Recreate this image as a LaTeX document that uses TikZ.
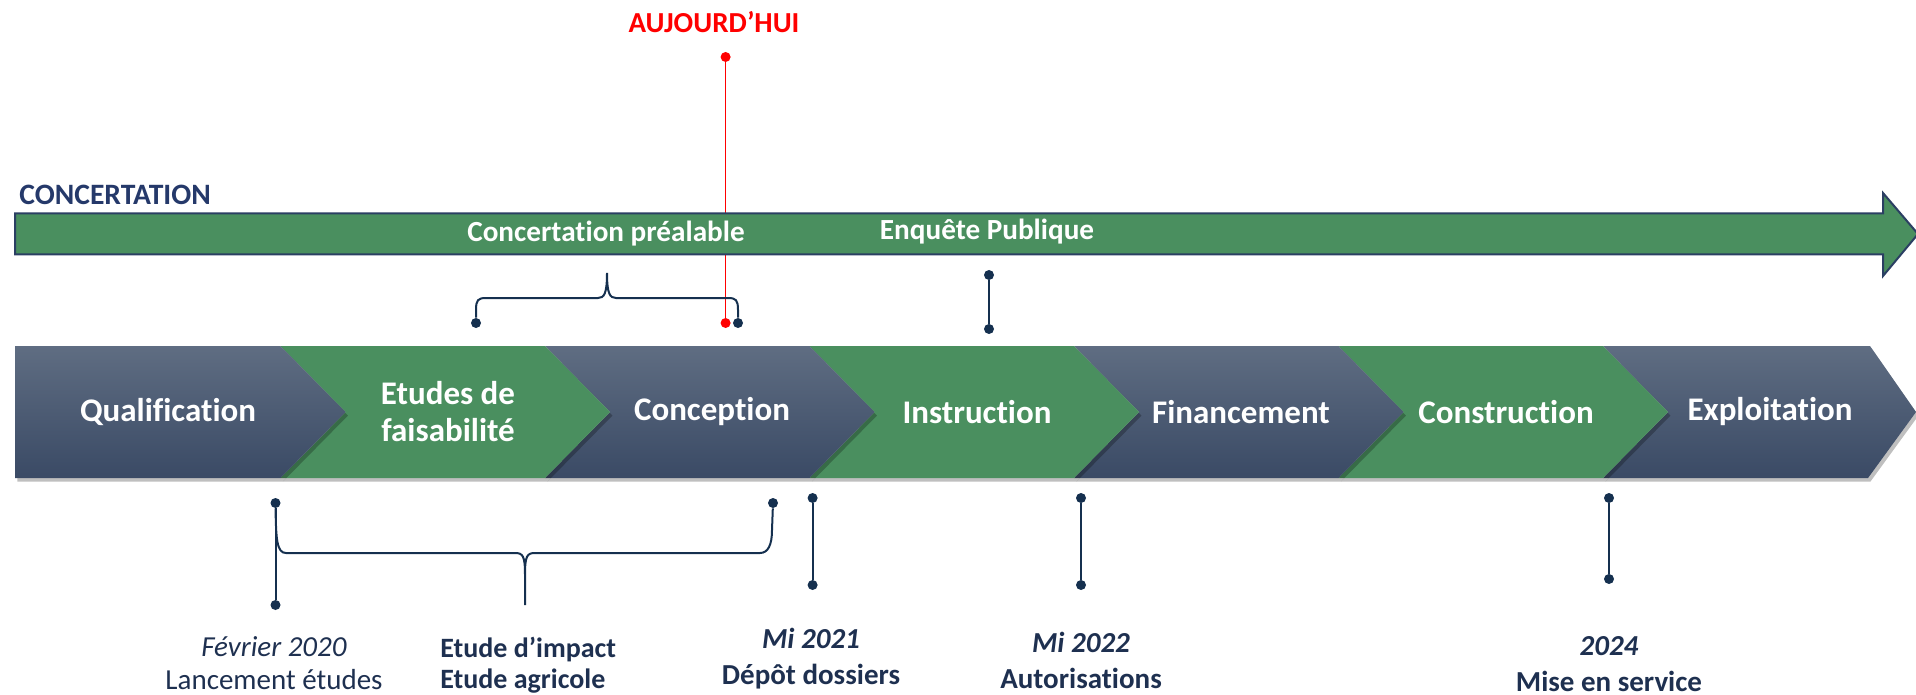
\documentclass[tikz,border=0pt]{standalone}
\usepackage{fontspec}
\setmainfont{Carlito}[Ligatures={NoCommon,NoContextual}]
\usetikzlibrary{shadows}
\definecolor{cgreen}{HTML}{4A8F5F}
\definecolor{ctop}{HTML}{5F6D82}
\definecolor{cbot}{HTML}{3A4A65}
\definecolor{navy}{HTML}{15304F}
\definecolor{navytext}{HTML}{1E3050}
\definecolor{ctitle}{HTML}{25396A}
\definecolor{outl}{HTML}{2B3F63}
\begin{document}
\begin{tikzpicture}[x=0.5pt,y=-0.5pt,
  dot/.style={circle,fill=navy,inner sep=0pt,minimum size=5pt},
  reddot/.style={circle,fill=red,inner sep=0pt,minimum size=5pt},
  link/.style={draw=navy,line width=1pt},
  txt/.style={inner sep=0pt,align=center},
  phase/.style={txt,text=white,font=\fontsize{16.5}{18.5}\selectfont\bfseries},
  bartext/.style={txt,text=white,font=\fontsize{14.6}{16}\selectfont\bfseries},
  datetext/.style={txt,text=navytext,font=\fontsize{14.5}{18}\selectfont\bfseries},
  chevshadow/.style={drop shadow={shadow xshift=1.2pt,shadow yshift=-1.8pt,opacity=0.25,fill=black}},
  bluechev/.style={chevshadow,top color=ctop,bottom color=cbot},
  greenchev/.style={chevshadow,fill=cgreen}]
\useasboundingbox (0,0) rectangle (1916,695);

% titles
\node[txt,anchor=west,text=ctitle,font=\fontsize{14.8}{16}\selectfont\bfseries] (conc) at (19,195) {CONCERTATION};
\node[txt,text=red,font=\fontsize{14.5}{16}\selectfont\bfseries] (auj) at (714,22) {AUJOURD’HUI};

% today line (behind the bar)
\node[reddot] (todaytop) at (725.6,57) {};
\coordinate (todaybot) at (725.6,323);
\draw[red,line width=0.6pt] (todaytop) -- (todaybot);

% concertation arrow
\path[fill=cgreen,draw=outl,line width=1pt]
  (15,213.5) -- (1883,213.5) -- (1883,193) -- (1918,234) -- (1883,276) -- (1883,254.5) -- (15,254.5) -- cycle;
\node[bartext] (prea) at (606,234) {Concertation préalable};
\node[bartext] (enq) at (987,232) {Enquête Publique};

% chevrons (right to left so shadows fall on the next one)
\path[bluechev] (1603,346) -- (1870,346) -- (1916,412) -- (1868,478) -- (1603,478) -- (1668,412) -- cycle;
\foreach \a/\b/\st in {1338.5/1603/greenchev,1074/1338.5/bluechev,809.5/1074/greenchev,545/809.5/bluechev,280.5/545/greenchev}{
  \path[\st] (\a,346) -- (\b,346) -- ({\b+65},412) -- (\b,478) -- (\a,478) -- ({\a+65},412) -- cycle;
}
\path[bluechev] (15,346) -- (280.5,346) -- (345.5,412) -- (280.5,478) -- (15,478) -- cycle;

\node[phase] (p1) at (168,412) {Qualification};
\node[phase] (p2) at (448,411.5) {Etudes de\\[0pt]faisabilité};
\node[phase] (p3) at (712,412) {Conception};
\node[phase] (p4) at (977,412) {Instruction};
\node[phase] (p5) at (1241,412) {Financement};
\node[phase] (p6) at (1506,412) {Construction};
\node[phase] (p7) at (1770,412) {Exploitation};

% upper brace (concertation préalable)
\node[dot] (bl) at (476,323) {};
\node[dot] (br) at (738,323) {};
\node[reddot] (todaydot) at (todaybot) {};
\coordinate (bc) at (607,273);
\draw[link] (bl) -- (476,310) .. controls (476,300) and (478,298) .. (486,298) -- (598,298)
  .. controls (604,298) and (607,294) .. (bc)
  .. controls (607,294) and (610,298) .. (616,298) -- (728,298)
  .. controls (736,298) and (738,300) .. (738,310) -- (br);

% enquête publique marker
\node[dot] (e1) at (989,275) {};
\node[dot] (e2) at (989,329) {};
\draw[link] (e1) -- (e2);

% lower brace and markers
\node[dot] (f1) at (275.5,503) {};
\node[dot] (f2) at (275.5,605) {};
\draw[link] (f1) -- (f2);
\node[dot] (g1) at (773,503) {};
\coordinate (gc) at (525,605);
\draw[link] (f1) .. controls (276,540) and (277,553) .. (286,553) -- (515,553)
  .. controls (523,553) and (525,556) .. (525,575) -- (gc)
  (gc) -- (525,575) .. controls (525,556) and (527,553) .. (535,553) -- (760,553)
  .. controls (768,553) and (772,545) .. (772,530) -- (g1);

\node[dot] (m1) at (812.6,498) {};
\node[dot] (m2) at (812.6,585) {};
\draw[link] (m1) -- (m2);
\node[dot] (n1) at (1081,498) {};
\node[dot] (n2) at (1081,585) {};
\draw[link] (n1) -- (n2);
\node[dot] (s1) at (1609,498) {};
\node[dot] (s2) at (1609,579) {};
\draw[link] (s1) -- (s2);

% bottom texts
\node[txt,text=navytext,font=\fontsize{14.5}{16.5}\selectfont] (fev) at (274,663) {\textit{Février 2020}\\Lancement études};
\node[txt,anchor=west,align=left,text=navytext,font=\fontsize{14}{15.5}\selectfont\bfseries] (etu) at (440,665) {Etude d’impact\\Etude agricole};
\node[datetext] (mi21) at (811,659) {\textit{Mi 2021}\\Dépôt dossiers};
\node[datetext] (mi22) at (1081,660) {\textit{Mi 2022}\\Autorisations};
\node[datetext] (y24) at (1609,664) {\textit{2024}\\Mise en service};
\end{tikzpicture}
\end{document}
